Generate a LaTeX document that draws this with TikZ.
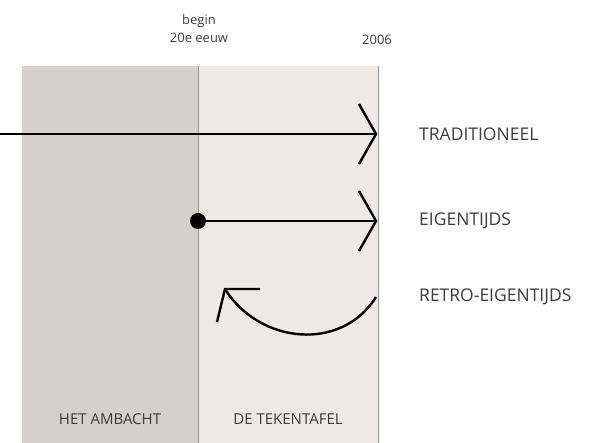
\documentclass[tikz,border=0pt]{standalone}
\usepackage{fontspec}
\setmainfont{Open Sans}
\usetikzlibrary{positioning}

\definecolor{ambacht}{RGB}{212,208,205}
\definecolor{tekentafel}{RGB}{236,233,230}
\definecolor{rand}{RGB}{150,150,150}
\definecolor{tekst}{RGB}{60,60,60}

\tikzset{
  periode/.style={fill=#1, draw=none},
  lijn/.style={line width=2.4pt},
  kop/.style={line width=2.4pt, line join=miter, miter limit=10},
  label/.style={text=tekst, font=\fontsize{17.5}{20}\selectfont, inner sep=0pt},
  vak/.style={text=tekst, font=\fontsize{15}{18}\selectfont, inner sep=0pt},
  jaar/.style={text=tekst, font=\fontsize{13}{16}\selectfont, align=center, inner sep=0pt}
}

\begin{document}
\begin{tikzpicture}[x=1pt,y=1pt,node distance=43pt]
   \useasboundingbox (0,0) rectangle (592,443);
   % tijdvakken
   \fill[periode=ambacht]    (22,0) rectangle (198,377);
   \fill[periode=tekentafel] (198,0) rectangle (378,377);
   \draw[rand, line width=1pt] (198,0) -- (198,377);
   \draw[rand, line width=1pt] (378,0) -- (378,377);

   \coordinate (tstart) at (0,309);
   \coordinate (tend)   at (376,309);
   \coordinate (estart) at (198,222);
   \coordinate (eend)   at (376,222);
   \coordinate (rstart) at (376,146);
   \coordinate (rtip)   at (225,154);

   \node[jaar] (begin) at (199,414) {begin\\[2pt]20e eeuw};
   \node[jaar] (jaar)  at (377,403) {2006};

   \node[label] (trad)  [right=of tend]   {TRADITIONEEL};
   \node[label] (eigen) [right=of eend]   {EIGENTIJDS};
   \node[label] (retro) [right=of rstart] {RETRO-EIGENTIJDS};

   \node[vak] (ambacht) at (110,24) {HET AMBACHT};
   \node[vak] (teken)   at (288,24) {DE TEKENTAFEL};

   % pijlen
   \draw[lijn] (tstart) -- (tend);
   \draw[kop] ([shift={(-17,30)}]tend) -- (tend) -- ([shift={(-17,-30)}]tend);
   \draw[lijn] (estart) -- (eend);
   \draw[kop] ([shift={(-17,30)}]eend) -- (eend) -- ([shift={(-17,-30)}]eend);
   \fill (estart) circle (8);
   \draw[lijn] (rstart) to[out=238, in=-58, looseness=1.1] (rtip);
   \draw[kop] ([shift={(35,0)}]rtip) -- (rtip) -- ([shift={(-8,-33)}]rtip);
\end{tikzpicture}
\end{document}
